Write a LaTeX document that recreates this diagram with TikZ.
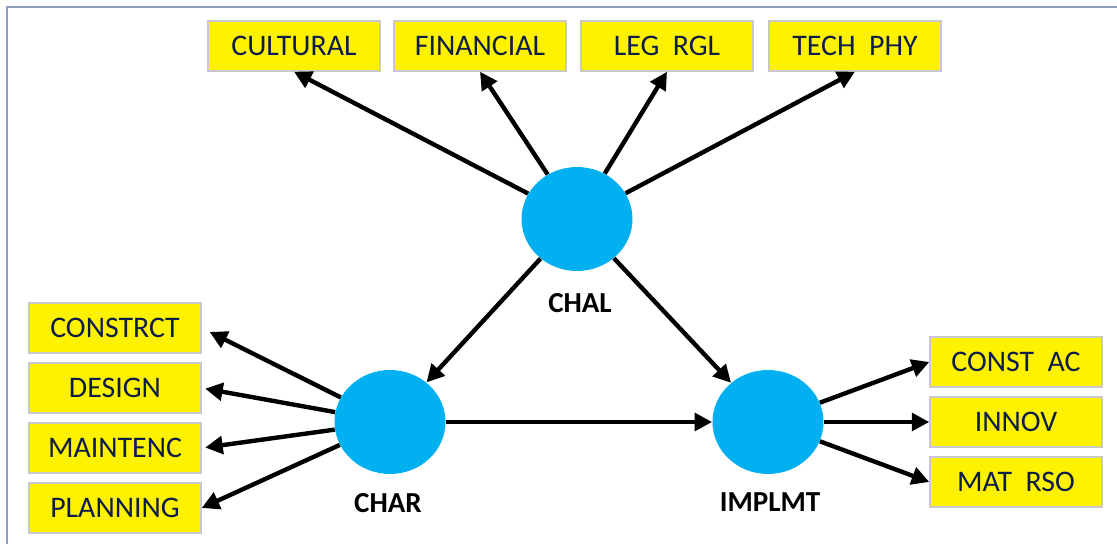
\documentclass[tikz,border=0pt]{standalone}
\usepackage{fontspec}
\setmainfont{Carlito}
\usetikzlibrary{arrows.meta,shapes.geometric}
\definecolor{hubblue}{RGB}{0,176,240}
\definecolor{boxtext}{RGB}{14,28,72}
\definecolor{boxline}{RGB}{200,200,200}
\definecolor{frameline}{RGB}{140,160,190}

\begin{document}
\begin{tikzpicture}[x=0.02cm, y=-0.02cm,
	box/.style={rectangle, draw=boxline, line width=0.8pt, fill=yellow, text=boxtext,
		minimum width=3.44cm, minimum height=1cm, font=\fontsize{17}{20}\selectfont},
	hub/.style={ellipse, fill=hubblue, minimum width=2.22cm, minimum height=2.08cm, inner sep=0pt},
	hubname/.style={font=\fontsize{16.5}{19}\selectfont\bfseries},
	arr/.style={line width=2.5pt, -{Triangle[length=10pt, width=10pt]}}]
	\useasboundingbox (0,0) rectangle (1117,544);
	\draw[frameline, line width=0.7pt] (7,544) -- (7,7) -- (1117,7);
	% hubs
	\node (chal) at (577,219) [hub] {};
	\node (char) at (390,422) [hub] {};
	\node (impl) at (768,422) [hub] {};
	\node (chalname) at (580,303) [hubname] {CHAL};
	\node (charname) at (388,503) [hubname] {CHAR};
	\node (implname) at (770,502) [hubname] {IMPLMT};
	% top boxes
		\node (cult) at (294,46) [box] {CULTURAL};
		\node (fin) at (480,46) [box] {FINANCIAL};
		\node (leg) at (667,46) [box] {LEG\ \ RGL};
		\node (tech) at (855,46) [box] {TECH\ \ PHY};
	% left boxes
		\node (cons) at (115,328) [box] {CONSTRCT};
		\node (des) at (115,388) [box] {DESIGN};
		\node (main) at (115,448) [box] {MAINTENC};
		\node (plan) at (115,508) [box] {PLANNING};
	% right boxes
		\node (cac) at (1016,362) [box] {CONST\ \ AC};
		\node (inn) at (1016,422) [box] {INNOV};
		\node (mat) at (1016,482) [box] {MAT\ \ RSO};
	\draw[arr] (chal) to (cult.south);
	\draw[arr] (chal) to (fin.south);
	\draw[arr] (chal) to (leg.south);
	\draw[arr] (chal) to (tech.south);
	\draw[arr] (chal) to (char);
	\draw[arr] (chal) to (impl);
	\draw[arr] (char) to (impl);
	\draw[arr, shorten >=5pt] (char) to (cons.east);
	\draw[arr, shorten >=2pt] (char) to (des.east);
	\draw[arr, shorten >=2pt] (char) to (main.east);
	\draw[arr] (char) to (plan.east);
	\draw[arr] (impl) to (cac.west);
	\draw[arr] (impl) to (inn.west);
	\draw[arr] (impl) to (mat.west);
\end{tikzpicture}
\end{document}
